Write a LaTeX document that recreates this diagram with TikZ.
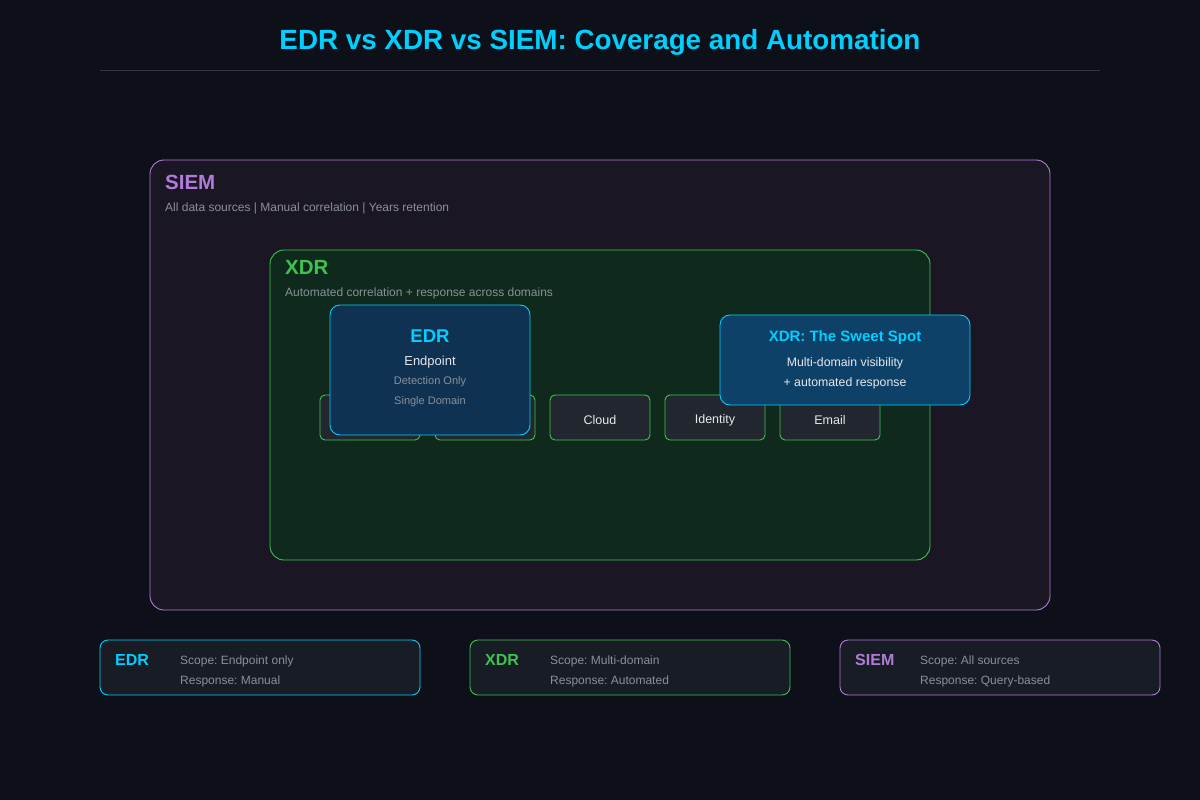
\documentclass[tikz,border=0pt]{standalone}
\usepackage{fontspec}
\setmainfont{Liberation Sans}
\frenchspacing
\definecolor{bg}{HTML}{0D1018}
\definecolor{cyanT}{HTML}{00CFFF}
\definecolor{purp}{HTML}{B07CD8}
\definecolor{grn}{HTML}{3DC34E}
\definecolor{siemfill}{HTML}{1B1624}
\definecolor{xdrfill}{HTML}{0F2A1D}
\definecolor{domfill}{HTML}{22262E}
\definecolor{edrfill}{HTML}{0F3152}
\definecolor{sweetfill}{HTML}{0E4168}
\definecolor{legfill}{HTML}{181C24}
\definecolor{subg}{HTML}{8A9099}
\definecolor{txtw}{HTML}{E6E8EB}
\definecolor{rule}{HTML}{33363D}
\tikzset{
  big/.style={draw, rounded corners=14pt, line width=0.9pt},
  dom/.style={draw=grn, fill=domfill, rounded corners=5pt, line width=0.9pt, minimum width=100pt, minimum height=45pt, inner sep=0pt},
  domt/.style={inner sep=0pt, yshift=-2.5pt, text=txtw, font=\fontsize{12.5}{14}\selectfont},
  hdr/.style={anchor=west, inner sep=0pt, font=\bfseries\fontsize{20.5}{22}\selectfont},
  sub/.style={anchor=west, inner sep=0pt, yshift=-2pt, text=subg, font=\fontsize{12}{14}\selectfont},
  low/.style={inner sep=0pt, yshift=-2pt},
  leg/.style={draw, fill=legfill, rounded corners=8pt, line width=0.9pt, minimum width=320pt, minimum height=55pt, inner sep=0pt},
  legh/.style={anchor=west, inner sep=0pt, yshift=-1pt, font=\bfseries\fontsize{16}{18}\selectfont},
  legt/.style={anchor=west, inner sep=0pt, yshift=-2pt, text=subg, font=\fontsize{12}{14}\selectfont},
}
\begin{document}
\begin{tikzpicture}[x=1pt,y=-1pt]
\fill[bg] (0,0) rectangle (1200,800);
\useasboundingbox (0,0) rectangle (1200,800);
\node[text=cyanT, font=\bfseries\fontsize{27.8}{32}\selectfont] (title) at (600,42) {EDR vs XDR vs SIEM: Coverage and Automation};
\draw[rule, line width=0.8pt] (100,70) -- (1100,70);
% SIEM
\draw[big, draw=purp, fill=siemfill] (150,160) rectangle (1050,610);
\node[hdr, text=purp] (siemh) at (165,182) {SIEM};
\node[sub] (siems) at (165,206) {All data sources | Manual correlation | Years retention};
% XDR
\draw[big, draw=grn, fill=xdrfill] (270,250) rectangle (930,560);
\node[hdr, text=grn] (xdrh) at (285,267) {XDR};
\node[sub] (xdrs) at (285,291) {Automated correlation + response across domains};
% domains
\node[dom] (d1) at (370,417.5) {};
\node[dom] (d2) at (485,417.5) {};
\node[dom] (d3) at (600,417.5) {};
\node[dom] (d4) at (715,417.5) {};
\node[dom] (d5) at (830,417.5) {};
\node[domt] (d3t) at (d3) {Cloud};
\node[domt] (d4t) at (d4) {Identity};
\node[domt] (d5t) at (d5) {Email};
% EDR
\node[draw=cyanT, fill=edrfill, rounded corners=10pt, line width=0.9pt, minimum width=200pt, minimum height=130pt, inner sep=0pt] (edr) at (430,370) {};
\node[inner sep=0pt, text=cyanT, font=\bfseries\fontsize{18.5}{20}\selectfont] (edrt) at (430,336) {EDR};
\node[low, text=txtw, font=\fontsize{13}{15}\selectfont] (edr1) at (430,360) {Endpoint};
\node[low, text=subg, font=\fontsize{11}{13}\selectfont] (edr2) at (430,380) {Detection Only};
\node[low, text=subg, font=\fontsize{11}{13}\selectfont] (edr3) at (430,400) {Single Domain};
% Sweet spot
\node[draw=cyanT, fill=sweetfill, rounded corners=10pt, line width=0.9pt, minimum width=250pt, minimum height=90pt, inner sep=0pt] (sw) at (845,360) {};
\node[low, text=cyanT, font=\bfseries\fontsize{15}{17}\selectfont] (swt) at (845,336) {XDR: The Sweet Spot};
\node[low, text=txtw, font=\fontsize{12.3}{14}\selectfont] (sw1) at (845,361) {Multi-domain visibility};
\node[low, text=txtw, font=\fontsize{12.3}{14}\selectfont] (sw2) at (845,381) {+ automated response};
% legend
\node[leg, draw=cyanT] (l1) at (260,667.5) {};
\node[legh, text=cyanT] (l1h) at (115,659) {EDR};
\node[legt] (l1a) at (180,659) {Scope: Endpoint only};
\node[legt] (l1b) at (180,679) {Response: Manual};
\node[leg, draw=grn] (l2) at (630,667.5) {};
\node[legh, text=grn] (l2h) at (485,659) {XDR};
\node[legt] (l2a) at (550,659) {Scope: Multi-domain};
\node[legt] (l2b) at (550,679) {Response: Automated};
\node[leg, draw=purp] (l3) at (1000,667.5) {};
\node[legh, text=purp] (l3h) at (855,659) {SIEM};
\node[legt] (l3a) at (920,659) {Scope: All sources};
\node[legt] (l3b) at (920,679) {Response: Query-based};
\end{tikzpicture}
\end{document}
